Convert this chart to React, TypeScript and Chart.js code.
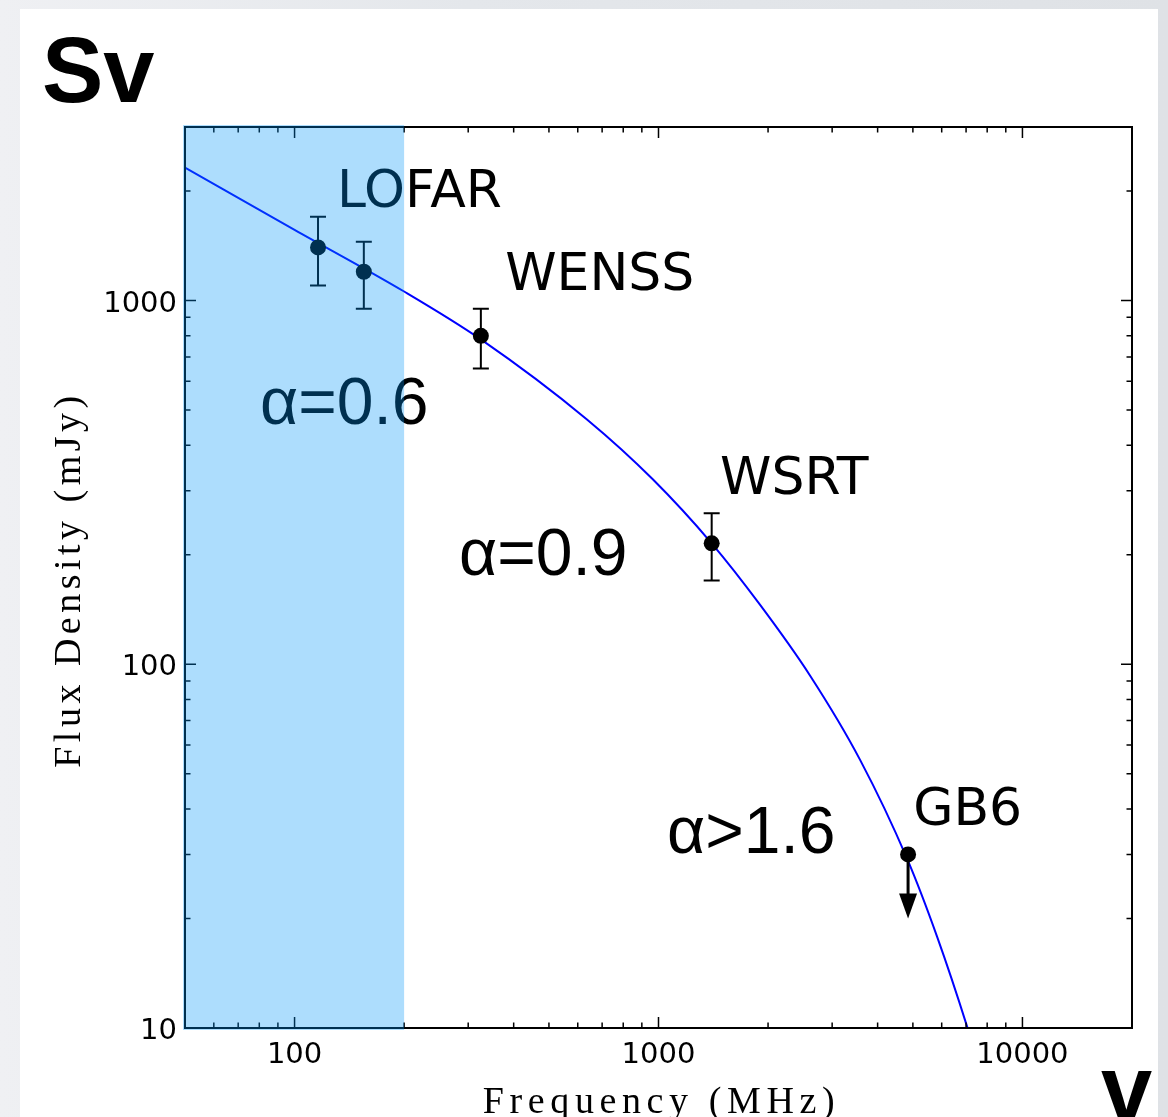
import React, { useEffect, useRef } from "react";
import { Chart, registerables } from "chart.js";

Chart.register(...registerables);

// ---- data ----
const curveFreq = [50, 100, 200, 325, 636, 966, 1400, 1900, 2610, 3580, 4820, 5830, 7050, 7650];
const curveFlux = [2320, 1565, 1059, 782, 471, 322, 215, 145.8, 93.0, 54.6, 29.2, 17.8, 10.07, 7.66];

const obsNames = ["LOFAR", "LOFAR", "WENSS", "WSRT", "GB6"];
const obsFreq = [116, 155, 325, 1400, 4850];
const obsFlux = [1400, 1200, 800, 215, 30];
const obsErr = [300, 250, 150, 45, 0];
const obsUpperLimit = [false, false, false, false, true];
const upperLimitTip = [0, 0, 0, 0, 20];

const bandFreq = [50, 200];

const labelTexts = ["LOFAR", "WENSS", "WSRT", "GB6", "α=0.6", "α=0.9", "α>1.6"];
const labelFreq = [130.8, 379, 1476, 5008, 80.4, 283, 1056];
const labelFlux = [1803, 1072, 294, 36.2, 459, 176, 30.3];
const labelIsAlpha = [false, false, false, false, true, true, true];

const xRange = [50, 20000];
const yRange = [10, 3000];
const xMajor = [100, 1000, 10000];
const xMinor = [60, 70, 80, 90, 200, 300, 400, 500, 600, 700, 800, 900, 2000, 3000, 4000, 5000, 6000, 7000, 8000, 9000];
const yMajor = [10, 100, 1000];
const yMinor = [20, 30, 40, 50, 60, 70, 80, 90, 200, 300, 400, 500, 600, 700, 800, 900, 2000];

const xTitle = "Frequency (MHz)";
const yTitle = "Flux Density (mJy)";
const topLeftSymbol = "Sv";
const bottomRightSymbol = "v";

const W = 1168;
const H = 1117;

const drawPlugin = {
  id: "spectrumDecor",
  beforeDatasetsDraw(chart: any) {
    const { ctx } = chart;
    const xs = chart.scales.x;
    const ys = chart.scales.y;
    ctx.save();
    ctx.strokeStyle = "#000";
    ctx.lineWidth = 2;
    for (let i = 0; i < obsFreq.length; i++) {
      if (obsUpperLimit[i] || !obsErr[i]) continue;
      const px = xs.getPixelForValue(obsFreq[i]);
      const top = ys.getPixelForValue(obsFlux[i] + obsErr[i]);
      const bot = ys.getPixelForValue(obsFlux[i] - obsErr[i]);
      ctx.beginPath();
      ctx.moveTo(px, top);
      ctx.lineTo(px, bot);
      ctx.moveTo(px - 8, top);
      ctx.lineTo(px + 8, top);
      ctx.moveTo(px - 8, bot);
      ctx.lineTo(px + 8, bot);
      ctx.stroke();
    }
    ctx.restore();
  },
  afterDatasetsDraw(chart: any) {
    const { ctx, chartArea: a } = chart;
    const xs = chart.scales.x;
    const ys = chart.scales.y;
    ctx.save();
    // upper-limit arrows
    for (let i = 0; i < obsFreq.length; i++) {
      if (!obsUpperLimit[i]) continue;
      const px = xs.getPixelForValue(obsFreq[i]);
      const py = ys.getPixelForValue(obsFlux[i]);
      const tip = ys.getPixelForValue(upperLimitTip[i]);
      ctx.strokeStyle = "#000";
      ctx.lineWidth = 3;
      ctx.beginPath();
      ctx.moveTo(px, py);
      ctx.lineTo(px, tip - 20);
      ctx.stroke();
      ctx.fillStyle = "#000";
      ctx.beginPath();
      ctx.moveTo(px - 9, tip - 25);
      ctx.lineTo(px + 9, tip - 25);
      ctx.lineTo(px, tip);
      ctx.closePath();
      ctx.fill();
    }
    // frame
    ctx.strokeStyle = "#000";
    ctx.lineWidth = 2;
    ctx.strokeRect(a.left, a.top, a.right - a.left, a.bottom - a.top);
    // ticks (inside, all four sides)
    ctx.lineWidth = 1.5;
    ctx.beginPath();
    const xt = (vals: number[], len: number) => {
      vals.forEach((v) => {
        const p = xs.getPixelForValue(v);
        ctx.moveTo(p, a.bottom);
        ctx.lineTo(p, a.bottom - len);
        ctx.moveTo(p, a.top);
        ctx.lineTo(p, a.top + len);
      });
    };
    const yt = (vals: number[], len: number) => {
      vals.forEach((v) => {
        const p = ys.getPixelForValue(v);
        ctx.moveTo(a.left, p);
        ctx.lineTo(a.left + len, p);
        ctx.moveTo(a.right, p);
        ctx.lineTo(a.right - len, p);
      });
    };
    xt(xMajor, 11);
    xt(xMinor, 5.5);
    yt(yMajor, 11);
    yt(yMinor, 5.5);
    ctx.stroke();
    // tick labels
    ctx.fillStyle = "#000";
    ctx.font = '29px "DejaVu Sans"';
    ctx.textBaseline = "alphabetic";
    ctx.textAlign = "center";
    xMajor.forEach((v) => {
      ctx.fillText(String(v), xs.getPixelForValue(v), a.bottom + 35);
    });
    ctx.textAlign = "right";
    yMajor.forEach((v) => {
      ctx.fillText(String(v), a.left - 8, ys.getPixelForValue(v) + 11);
    });
    // annotation labels
    ctx.textAlign = "left";
    for (let i = 0; i < labelTexts.length; i++) {
      ctx.font = labelIsAlpha[i] ? '66px "Liberation Sans"' : '52px "DejaVu Sans"';
      ctx.fillText(labelTexts[i], xs.getPixelForValue(labelFreq[i]), ys.getPixelForValue(labelFlux[i]));
    }
    ctx.restore();
  },
  afterDraw(chart: any) {
    const { ctx, chartArea: a } = chart;
    const xs = chart.scales.x;
    ctx.save();
    // translucent observing band
    const bx0 = xs.getPixelForValue(bandFreq[0]);
    const bx1 = xs.getPixelForValue(bandFreq[1]);
    ctx.fillStyle = "rgba(0,150,250,0.32)";
    ctx.fillRect(bx0 - 2, a.top - 2, bx1 - bx0 + 2, a.bottom - a.top + 4);
    // axis titles
    ctx.fillStyle = "#000";
    ctx.font = '38px "Liberation Serif"';
    ctx.textBaseline = "alphabetic";
    ctx.textAlign = "center";
    (ctx as any).letterSpacing = "5.6px";
    ctx.fillText(xTitle, (a.left + a.right) / 2 + 3, 1113);
    (ctx as any).letterSpacing = "4.5px";
    ctx.translate(80, (a.top + a.bottom) / 2 + 2);
    ctx.rotate(-Math.PI / 2);
    ctx.fillText(yTitle, 0, 0);
    ctx.setTransform(1, 0, 0, 1, 0, 0);
    (ctx as any).letterSpacing = "0px";
    // big symbols
    ctx.textAlign = "left";
    ctx.font = 'bold 92px "Liberation Sans"';
    ctx.fillText(topLeftSymbol, 42, 102);
    ctx.fillText(bottomRightSymbol, 1101, 1120);
    ctx.restore();
  },
};

export default function App() {
  const ref = useRef<HTMLCanvasElement | null>(null);
  useEffect(() => {
    if (!ref.current) return;
    const chart = new Chart(ref.current, {
      type: "scatter",
      data: {
        datasets: [
          {
            label: "observations",
            data: obsFreq.map((f, i) => ({ x: f, y: obsFlux[i] })),
            pointRadius: 8,
            pointHoverRadius: 8,
            pointBackgroundColor: "#000",
            pointBorderColor: "#000",
            pointBorderWidth: 0,
            showLine: false,
          },
          {
            label: "fit",
            data: curveFreq.map((f, i) => ({ x: f, y: curveFlux[i] })),
            showLine: true,
            borderColor: "#0000ff",
            borderWidth: 2,
            pointRadius: 0,
            cubicInterpolationMode: "monotone",
            fill: false,
          },
        ],
      },
      options: {
        responsive: false,
        animation: false,
        devicePixelRatio: 1,
        layout: { padding: { left: 185, top: 127, right: 36, bottom: 89 } },
        plugins: { legend: { display: false }, tooltip: { enabled: false }, title: { display: false } },
        scales: {
          x: { type: "logarithmic", min: xRange[0], max: xRange[1], display: false },
          y: { type: "logarithmic", min: yRange[0], max: yRange[1], display: false },
        },
      } as any,
      plugins: [drawPlugin],
    });
    return () => chart.destroy();
  }, []);
  return (
    <div style={{ position: "absolute", left: 0, top: 0, width: W, height: H, overflow: "hidden", background: "linear-gradient(90deg, #eff0f3 0%, #e4e7eb 40%, #dfe2e6 100%)" }}>
      <div style={{ position: "absolute", left: 20, top: 9, width: 1138, height: H - 9, background: "#fff" }} />
      <canvas ref={ref} width={W} height={H} style={{ position: "absolute", left: 0, top: 0, width: W, height: H }} />
    </div>
  );
}
